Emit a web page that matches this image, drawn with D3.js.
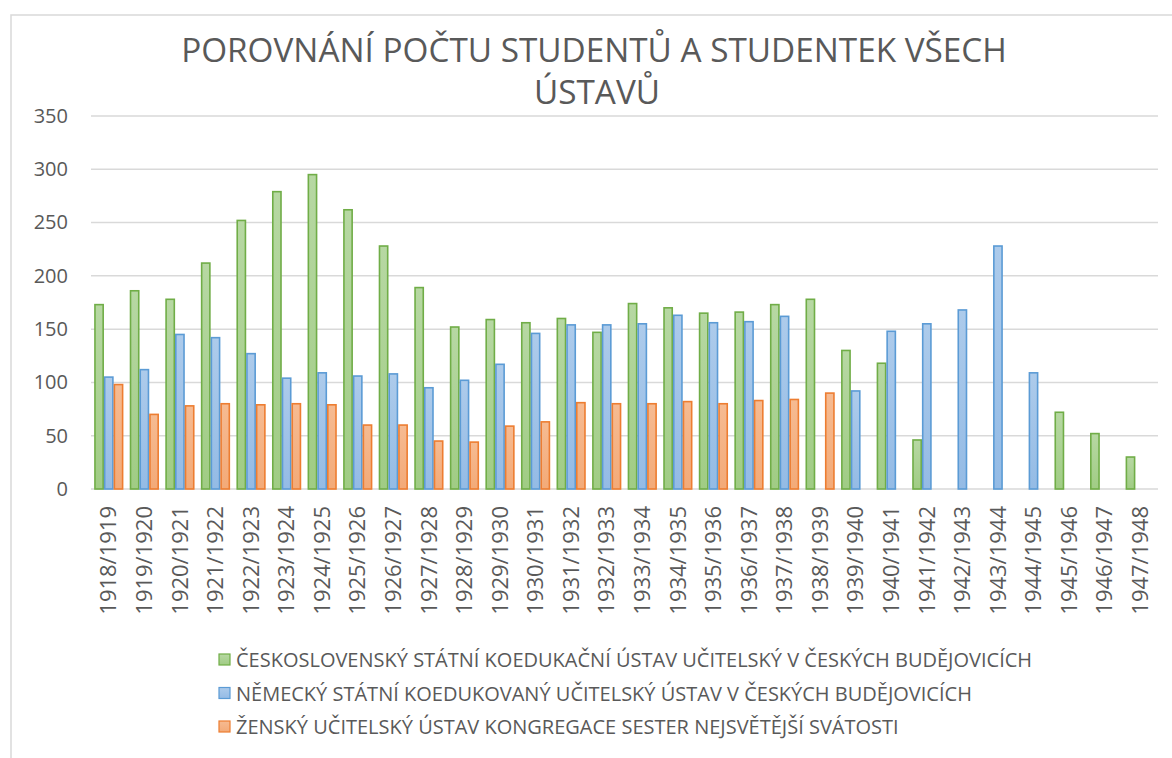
<!DOCTYPE html>
<html lang="cs">
<head>
<meta charset="UTF-8">
<title>Porovnání počtu studentů</title>
<style>
    body { margin: 0; background: #fff; }
    svg { display: block; font-family: "Open Sans", sans-serif; }
</style>
</head>
<body>
<svg id="chart" width="1172" height="758"></svg>
<script src="https://d3js.org/d3.v7.min.js"></script>
<script>
// school years on the x axis
const years = ["1918/1919", "1919/1920", "1920/1921", "1921/1922", "1922/1923", "1923/1924",
    "1924/1925", "1925/1926", "1926/1927", "1927/1928", "1928/1929", "1929/1930", "1930/1931",
    "1931/1932", "1932/1933", "1933/1934", "1934/1935", "1935/1936", "1936/1937", "1937/1938",
    "1938/1939", "1939/1940", "1940/1941", "1941/1942", "1942/1943", "1943/1944", "1944/1945",
    "1945/1946", "1946/1947", "1947/1948"];

const seriesNames = [
    "ČESKOSLOVENSKÝ STÁTNÍ KOEDUKAČNÍ ÚSTAV UČITELSKÝ V ČESKÝCH BUDĚJOVICÍCH",
    "NĚMECKÝ STÁTNÍ KOEDUKOVANÝ UČITELSKÝ ÚSTAV V ČESKÝCH BUDĚJOVICÍCH",
    "ŽENSKÝ UČITELSKÝ ÚSTAV KONGREGACE SESTER NEJSVĚTĚJŠÍ SVÁTOSTI"
];

const ceskoslovensky = [173, 186, 178, 212, 252, 279, 295, 262, 228, 189, 152, 159, 156, 160, 147,
    174, 170, 165, 166, 173, 178, 130, 118, 46, null, null, null, 72, 52, 30];
const nemecky = [105, 112, 145, 142, 127, 104, 109, 106, 108, 95, 102, 117, 146, 154, 154,
    155, 163, 156, 157, 162, null, 92, 148, 155, 168, 228, 109, null, null, null];
const zensky = [98, 70, 78, 80, 79, 80, 79, 60, 60, 45, 44, 59, 63, 81, 80,
    80, 82, 80, 83, 84, 90, null, null, null, null, null, null, null, null, null];

const yTicks = [0, 50, 100, 150, 200, 250, 300, 350];

const allSeries = [ceskoslovensky, nemecky, zensky];
const strokes = ["#70ad47", "#5b9bd5", "#ed7d31"];
const fillsTop = ["#b7d8a3", "#adcbeb", "#f6bb92"];
const fillsBottom = ["#a0cc84", "#94bbe5", "#f3aa78"];

const svg = d3.select("#chart");
const textColor = "#595959";
const gridColor = "#d9d9d9";

// outer chart frame
svg.append("rect")
    .attr("x", 11).attr("y", 15)
    .attr("width", 1300).attr("height", 900)
    .attr("fill", "none")
    .attr("stroke", gridColor)
    .attr("stroke-width", 1.5);

// gradients for bars
const defs = svg.append("defs");
allSeries.forEach((s, i) => {
    const g = defs.append("linearGradient")
        .attr("id", "grad" + i)
        .attr("x1", 0).attr("y1", 0).attr("x2", 0).attr("y2", 1);
    g.append("stop").attr("offset", "0%").attr("stop-color", fillsTop[i]);
    g.append("stop").attr("offset", "100%").attr("stop-color", fillsBottom[i]);
});

// title
const title = svg.append("text")
    .attr("text-anchor", "middle")
    .attr("fill", textColor)
    .attr("font-size", 33.3);
title.append("tspan").attr("x", 594).attr("y", 62).text("POROVNÁNÍ POČTU STUDENTŮ A STUDENTEK VŠECH");
title.append("tspan").attr("x", 597).attr("y", 104).text("ÚSTAVŮ");

// scales
const x0 = d3.scaleBand()
    .domain(years)
    .range([91, 1158])
    .paddingInner(0.18)
    .paddingOuter(0.09);

const x1 = d3.scaleBand()
    .domain(d3.range(allSeries.length))
    .range([0, x0.bandwidth()]);

const y = d3.scaleLinear()
    .domain([0, 350])
    .range([489, 116]);

// gridlines
svg.append("g")
    .selectAll("line")
    .data(yTicks)
    .join("line")
    .attr("x1", 91).attr("x2", 1158)
    .attr("y1", d => y(d)).attr("y2", d => y(d))
    .attr("stroke", gridColor)
    .attr("stroke-width", 1.5);

// y axis labels
const yAxis = svg.append("g")
    .attr("transform", "translate(80,0)")
    .call(d3.axisLeft(y).tickValues(yTicks).tickSize(0).tickPadding(12));
yAxis.select(".domain").remove();
yAxis.selectAll("text")
    .attr("fill", textColor)
    .attr("font-size", 20)
    .attr("font-family", "Open Sans, sans-serif");

// bars
const groups = svg.append("g")
    .selectAll("g")
    .data(years)
    .join("g")
    .attr("transform", d => `translate(${x0(d)},0)`);

groups.selectAll("rect")
    .data((d, i) => allSeries.map((s, k) => ({ k: k, v: s[i] })).filter(e => e.v != null))
    .join("rect")
    .attr("x", d => x1(d.k) + 0.75)
    .attr("width", x1.bandwidth() - 1.5)
    .attr("y", d => y(d.v))
    .attr("height", d => y(0) - y(d.v))
    .attr("fill", d => `url(#grad${d.k})`)
    .attr("stroke", d => strokes[d.k])
    .attr("stroke-width", 1.6);

// x axis labels (rotated)
const xAxis = svg.append("g")
    .attr("transform", "translate(0,489)")
    .call(d3.axisBottom(x0).tickSize(0).tickPadding(0));
xAxis.select(".domain").remove();
xAxis.selectAll("text")
    .attr("transform", "rotate(-90)")
    .attr("text-anchor", "end")
    .attr("dy", "0.35em")
    .attr("x", -17)
    .attr("y", 0)
    .attr("fill", textColor)
    .attr("font-size", 22)
    .attr("font-family", "Open Sans, sans-serif");

// legend
const legend = svg.append("g")
    .selectAll("g")
    .data(seriesNames)
    .join("g")
    .attr("transform", (d, i) => `translate(219,${660 + i * 33.5})`);

legend.append("rect")
    .attr("x", 0).attr("y", -6)
    .attr("width", 11).attr("height", 11)
    .attr("fill", (d, i) => `url(#grad${i})`)
    .attr("stroke", (d, i) => strokes[i])
    .attr("stroke-width", 1.2);

legend.append("text")
    .attr("x", 17)
    .attr("dy", "0.35em")
    .attr("fill", textColor)
    .attr("font-size", 20)
    .text(d => d);
</script>
</body>
</html>
